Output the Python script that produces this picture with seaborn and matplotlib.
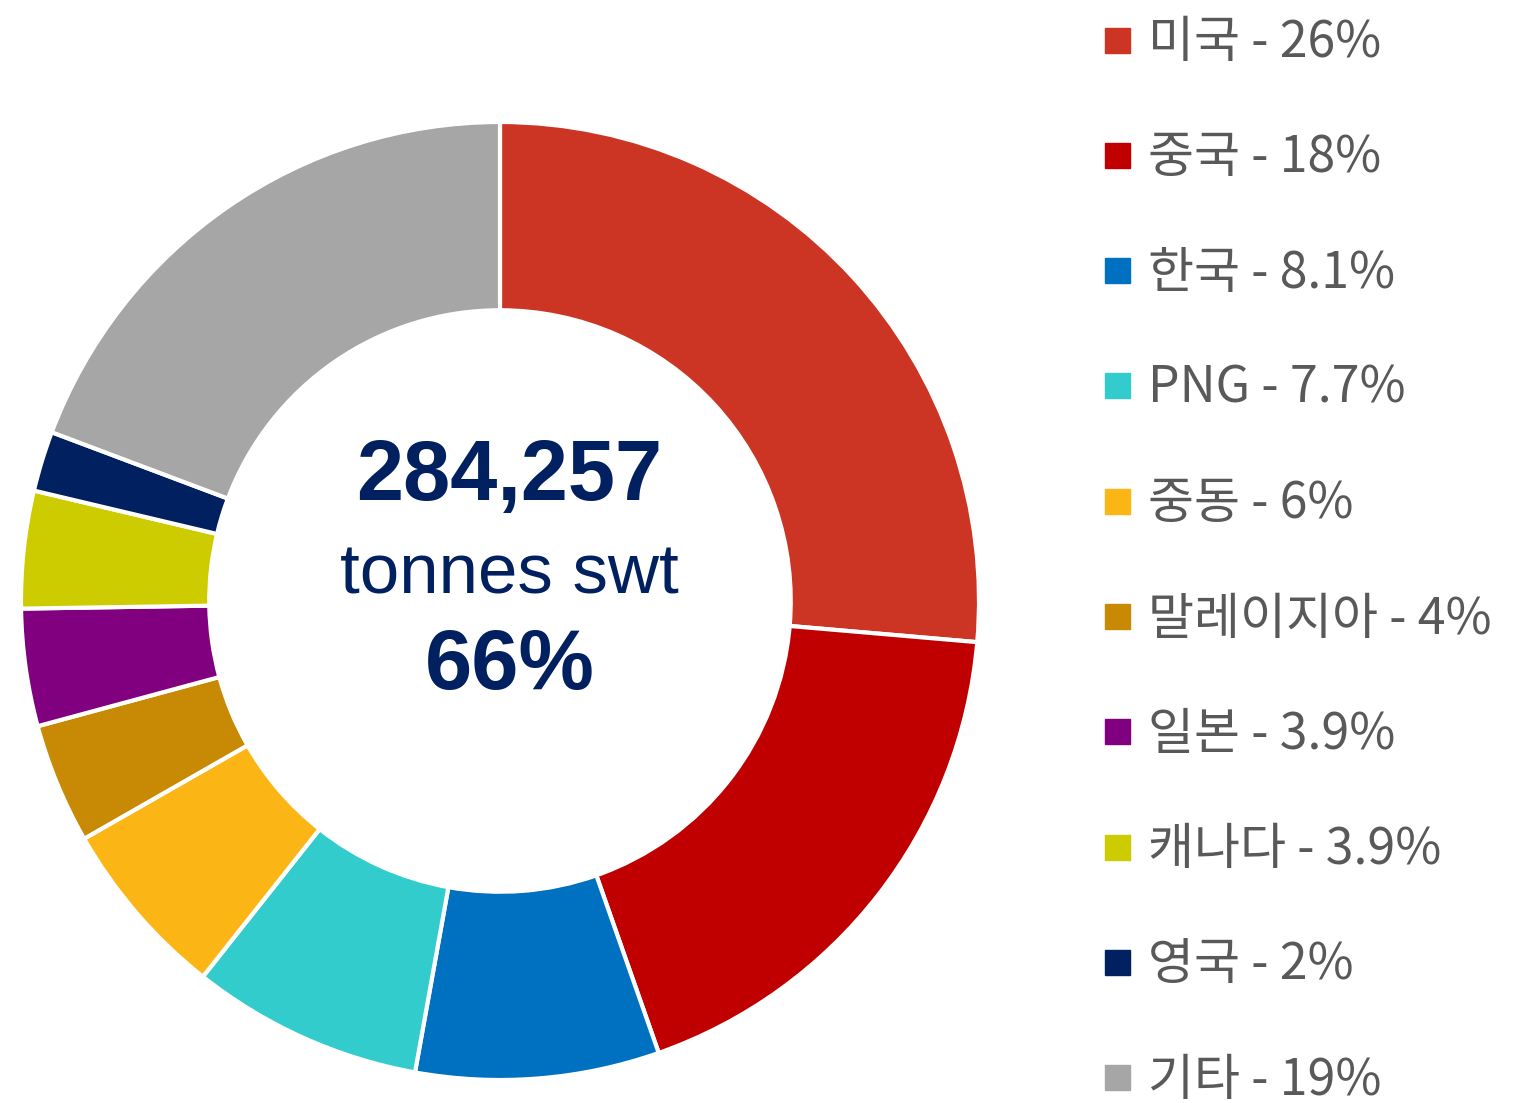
import matplotlib
matplotlib.use("Agg")
import matplotlib.pyplot as plt
from matplotlib.lines import Line2D
import seaborn as sns

categories = ["미국", "중국", "한국", "PNG", "중동", "말레이지아", "일본", "캐나다", "영국", "기타"]
values = [26, 18, 8.1, 7.7, 6, 4, 3.9, 3.9, 2, 19]
value_labels = ["26%", "18%", "8.1%", "7.7%", "6%", "4%", "3.9%", "3.9%", "2%", "19%"]
colors = ["#CC3524", "#C00000", "#0070C0", "#33CCCC", "#FBB616",
          "#C88A04", "#800080", "#CCCC00", "#002060", "#A6A6A6"]
center_total = "284,257"
center_unit = "tonnes swt"
center_share = "66%"

sns.set_theme(style="white")
plt.rcParams['font.family'] = ['Noto Sans CJK KR', 'DejaVu Sans']

W, H = 1530, 1103
fig = plt.figure(figsize=(W / 100, H / 100), dpi=100)
cx, cy, r = 500, 601, 479
ax = fig.add_axes([(cx - r) / W, (H - cy - r) / H, 2 * r / W, 2 * r / H])
ax.pie(values, colors=colors, startangle=90, counterclock=False, radius=1.0,
       wedgeprops=dict(width=0.393, edgecolor="white", linewidth=3))
ax.set_xlim(-1, 1)
ax.set_ylim(-1, 1)
ax.set_aspect("equal")
ax.axis("off")

navy = "#002060"
ax.text(0.02, 0.257, center_total, ha="center", va="center", fontsize=61,
        fontweight="bold", color=navy, family="Liberation Sans")
ax.text(0.02, 0.053, center_unit, ha="center", va="center", fontsize=51,
        color=navy, family="Liberation Sans")
ax.text(0.02, -0.137, center_share, ha="center", va="center", fontsize=61,
        fontweight="bold", color=navy, family="Liberation Sans")

handles = [Line2D([0], [0], marker="s", linestyle="none", markersize=18,
                  markerfacecolor=c, markeredgecolor=c) for c in colors]
labels = [f"{c} - {v}" for c, v in zip(categories, value_labels)]
leg = fig.legend(handles, labels, loc="upper left", bbox_to_anchor=(1101.5 / W, 1 - 17 / H),
                 frameon=False, fontsize=36, labelspacing=1.266, handlelength=0.6,
                 handletextpad=0.33, borderaxespad=0, borderpad=0)
for t in leg.get_texts():
    t.set_color("#595959")

fig.savefig("out.png", dpi=100)
